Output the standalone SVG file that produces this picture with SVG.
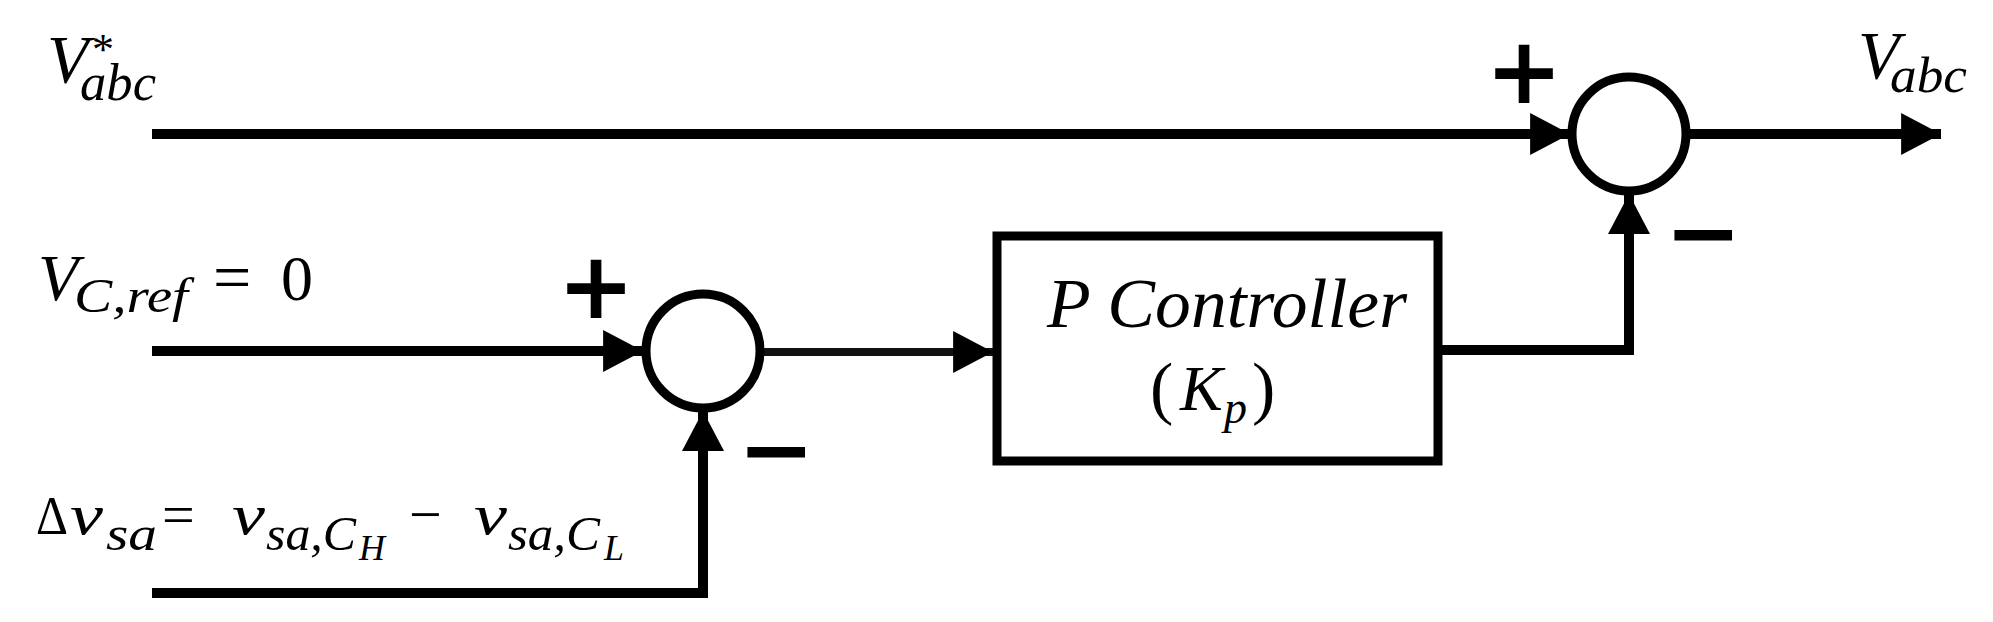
<svg xmlns="http://www.w3.org/2000/svg" width="1993" height="622" viewBox="0 0 1993 622">
<style>
.ln{stroke:#000;stroke-width:10;fill:none}
.thin{stroke:#111;stroke-width:8;fill:none}
.sum{stroke:#000;stroke-width:9;fill:#fff}
.box{stroke:#000;stroke-width:9;fill:#fff}
.m{font-family:"Liberation Serif","Times New Roman",serif;font-style:italic;fill:#000}
.up{font-style:normal}
.sg{font-family:"DejaVu Sans",sans-serif;font-weight:bold;fill:#000;text-anchor:middle}
</style>
<defs>
<marker id="ah" markerUnits="userSpaceOnUse" markerWidth="40" markerHeight="42" viewBox="0 0 38 40" refX="38" refY="20" orient="auto">
<path d="M0,0 L38,20 L0,40 Z" fill="#000"/>
</marker>
</defs>
<rect width="1993" height="622" fill="#fff"/>
<g id="connectors">
<line class="ln" x1="152" y1="134" x2="1570" y2="134" marker-end="url(#ah)"/>
<line class="ln" x1="1688" y1="134" x2="1941" y2="134" marker-end="url(#ah)"/>
<line class="ln" x1="152" y1="351" x2="643" y2="351" marker-end="url(#ah)"/>
<line class="thin" x1="762" y1="352" x2="993" y2="352" marker-end="url(#ah)"/>
<polyline class="ln" points="1442,350 1629,350 1629,194" marker-end="url(#ah)"/>
<polyline class="ln" points="152,593 703,593 703,411" marker-end="url(#ah)"/>
</g>
<g id="sum1">
<circle class="sum" cx="703" cy="351" r="57"/>
<text class="sg" x="596" y="318" font-size="92">+</text>
<text class="sg" x="776" y="481" font-size="92">−</text>
</g>
<g id="sum2">
<circle class="sum" cx="1629" cy="134" r="57"/>
<text class="sg" x="1524" y="103" font-size="92">+</text>
<text class="sg" x="1703" y="264" font-size="92">−</text>
</g>
<g id="pctrl">
<rect class="box" x="997" y="236" width="441" height="225"/>
<text class="m" x="1047" y="327" font-size="70" textLength="360" lengthAdjust="spacingAndGlyphs">P Controller</text>
<text class="m"><tspan class="up" x="1150" y="411" font-size="70">(</tspan><tspan x="1180" y="410" font-size="64">K</tspan><tspan x="1224" y="423" font-size="46">p</tspan><tspan class="up" x="1252" y="411" font-size="70">)</tspan></text>
</g>
<g id="label-vabc-ref">
<text class="m"><tspan x="47" y="82" font-size="68">V</tspan><tspan class="up" x="92" y="64" font-size="44">*</tspan><tspan x="80" y="100" font-size="52" textLength="76" lengthAdjust="spacingAndGlyphs">abc</tspan></text>
</g>
<g id="label-vabc-out">
<text class="m"><tspan x="1858" y="78" font-size="68">V</tspan><tspan x="1890" y="92" font-size="50" textLength="77" lengthAdjust="spacingAndGlyphs">abc</tspan></text>
</g>
<g id="label-vcref">
<text class="m"><tspan x="38" y="300" font-size="66">V</tspan><tspan x="74" y="312" font-size="48" textLength="114" lengthAdjust="spacingAndGlyphs">C,ref</tspan><tspan class="up" x="213" y="300" font-size="68">=</tspan><tspan class="up" x="281" y="300" font-size="64">0</tspan></text>
</g>
<g id="label-dv">
<text class="m"><tspan class="up" x="36" y="534" font-size="54" textLength="32" lengthAdjust="spacingAndGlyphs">Δ</tspan><tspan x="70" y="534" font-size="58" textLength="33" lengthAdjust="spacingAndGlyphs">v</tspan><tspan x="106" y="550" font-size="48" textLength="51" lengthAdjust="spacingAndGlyphs">sa</tspan><tspan class="up" x="162" y="534" font-size="58">=</tspan><tspan x="232" y="534" font-size="58" textLength="33" lengthAdjust="spacingAndGlyphs">v</tspan><tspan x="266" y="550" font-size="48" textLength="90" lengthAdjust="spacingAndGlyphs">sa,C</tspan><tspan x="359" y="560" font-size="36">H</tspan><tspan class="up" x="409" y="534" font-size="58">−</tspan><tspan x="474" y="534" font-size="58" textLength="33" lengthAdjust="spacingAndGlyphs">v</tspan><tspan x="508" y="550" font-size="48" textLength="92" lengthAdjust="spacingAndGlyphs">sa,C</tspan><tspan x="604" y="560" font-size="36">L</tspan></text>
</g>
</svg>
